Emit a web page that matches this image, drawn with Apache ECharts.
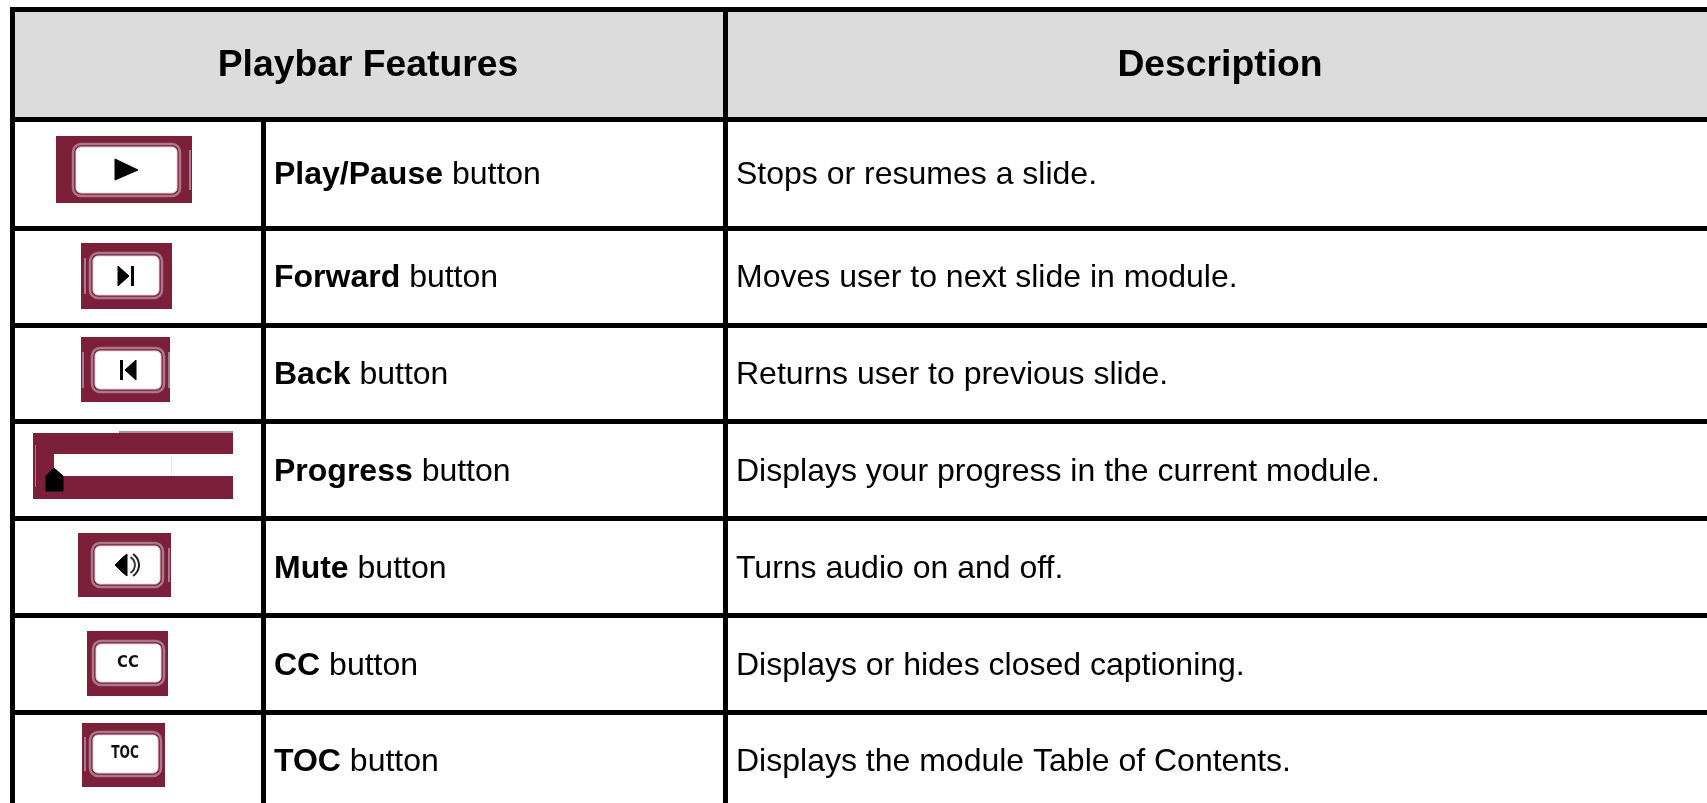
<!DOCTYPE html>
<html><head><meta charset="utf-8">
<style>html,body{margin:0;padding:0;background:#fff}#c{width:1707px;height:803px}</style>
<script src="https://cdn.jsdelivr.net/npm/echarts@6/dist/echarts.min.js"></script>
</head><body><div id="c"></div>
<script>
const headers = ['Playbar Features', 'Description'];
const featureNames = ['Play/Pause', 'Forward', 'Back', 'Progress', 'Mute', 'CC', 'TOC'];
const featureSuffix = ' button';
const descriptions = [
  'Stops or resumes a slide.',
  'Moves user to next slide in module.',
  'Returns user to previous slide.',
  'Displays your progress in the current module.',
  'Turns audio on and off.',
  'Displays or hides closed captioning.',
  'Displays the module Table of Contents.'
];

// layout (pixels)
const W = 1707, H = 803, LW = 5;
const hLines = [7, 117, 226, 323, 419, 516, 613, 710];
const vOuter = 10, vMid = 261, vCenter = 723;
const textY = [175, 278, 375, 472, 569, 666, 762];
const MAROON = '#7b1f3b', RING = '#a9788a', BLACK = '#000';
const FONT = '"Liberation Sans", Arial, sans-serif';

const g = [];
const rect = (x, y, w, h, fill, extra) => g.push(Object.assign({type:'rect', shape:{x,y,width:w,height:h}, style:{fill}}, extra||{}));
const poly = (points, fill) => g.push({type:'polygon', shape:{points}, style:{fill, stroke:fill, lineWidth:1, lineJoin:'round'}});

// header fill
rect(vOuter, hLines[0], W - vOuter, hLines[1] - hLines[0], '#dcdcdc');
// grid lines
hLines.forEach(y => rect(vOuter, y, W - vOuter, LW, BLACK));
rect(vOuter, hLines[0], LW, H - hLines[0], BLACK);
rect(vCenter, hLines[0], LW, H - hLines[0], BLACK);
rect(vMid, hLines[1], LW, H - hLines[1], BLACK);

// header text
[[368, headers[0]], [1220, headers[1]]].forEach(([x, t]) => g.push({
  type:'text', x, y:66, style:{text:t, fill:'#000', font:'bold 37.3px ' + FONT, textAlign:'center', textVerticalAlign:'middle'}
}));

// body text
featureNames.forEach((n, i) => {
  g.push({type:'text', x:274, y:textY[i], style:{
    text:'{b|' + n + '}{r|' + featureSuffix + '}',
    textVerticalAlign:'middle', textAlign:'left',
    rich:{b:{font:'bold 32px ' + FONT, fill:'#000'}, r:{font:'32px ' + FONT, fill:'#000'}}
  }});
  g.push({type:'text', x:736, y:textY[i], style:{
    text:descriptions[i], fill:'#000', font:'32px ' + FONT, textAlign:'left', textVerticalAlign:'middle'
  }});
});

// button icon frame
function button(bx, by, bw, bh, rx, ry, rw, rh, sides) {
  rect(bx, by, bw, bh, MAROON);
  g.push({type:'rect', shape:{x:rx+1,y:ry+1,width:rw-2,height:rh-2,r:8}, style:{fill:'none', stroke:RING, lineWidth:2.5}});
  g.push({type:'rect', shape:{x:rx+4,y:ry+4,width:rw-8,height:rh-8,r:5}, style:{fill:'#fff', stroke:'#e6d3da', lineWidth:1}});
  (sides || []).forEach(s => rect(s[0], s[1], s[2], s[3], RING));
}

// Play/Pause
button(56, 136, 136, 67, 72, 143, 109, 54, [[189, 150, 2, 40]]);
poly([[115,159],[138,170],[115,180]], BLACK);
// Forward
button(81, 243, 91, 66, 89, 252, 74, 47, [[84, 258, 2, 36]]);
poly([[118,266],[129,276],[118,286]], BLACK);
rect(131, 266, 3, 20, BLACK);
// Back
button(81, 337, 89, 65, 91, 347, 74, 46, [[82, 352, 2, 36], [168, 352, 2, 36]]);
rect(120, 360, 3, 20, BLACK);
poly([[136,360],[125,370],[136,380]], BLACK);
// Progress
rect(119, 431, 114, 2, '#b58c9b');
rect(33, 433, 200, 66, MAROON);
rect(54, 454, 179, 22, '#fff');
rect(171, 456, 1, 20, '#f0e4e8');
rect(35, 445, 1, 42, RING);
poly([[54,468],[63,476],[63,491],[46,491],[46,476]], BLACK);
// Mute
button(78, 533, 93, 64, 91, 542, 73, 46, [[168, 548, 2, 34]]);
poly([[115,565],[122,558],[127,554],[127,576],[122,572]], BLACK);
g.push({type:'arc', shape:{cx:126,cy:565,r:9,startAngle:-1.05,endAngle:1.05}, style:{fill:'none', stroke:'#333', lineWidth:2}});
g.push({type:'arc', shape:{cx:126,cy:565,r:13,startAngle:-1.0,endAngle:1.0}, style:{fill:'none', stroke:'#222', lineWidth:2}});
// CC
button(87, 631, 81, 65, 92, 640, 73, 46);
g.push({type:'text', x:128, y:663, scaleX:0.93, style:{text:'CC', fill:'#111', font:'bold 16px "DejaVu Sans", sans-serif', textAlign:'center', textVerticalAlign:'middle'}});
// TOC
button(82, 723, 83, 64, 89, 731, 73, 46, [[84, 737, 2, 34]]);
g.push({type:'text', x:125, y:754, scaleX:0.72, style:{text:'TOC', fill:'#111', font:'bold 17px "DejaVu Sans", sans-serif', textAlign:'center', textVerticalAlign:'middle'}});

const chart = echarts.init(document.getElementById('c'), null, {renderer:'canvas', width:W, height:H});
chart.setOption({backgroundColor:'#fff', animation:false, graphic:{elements:g}});
</script></body></html>
